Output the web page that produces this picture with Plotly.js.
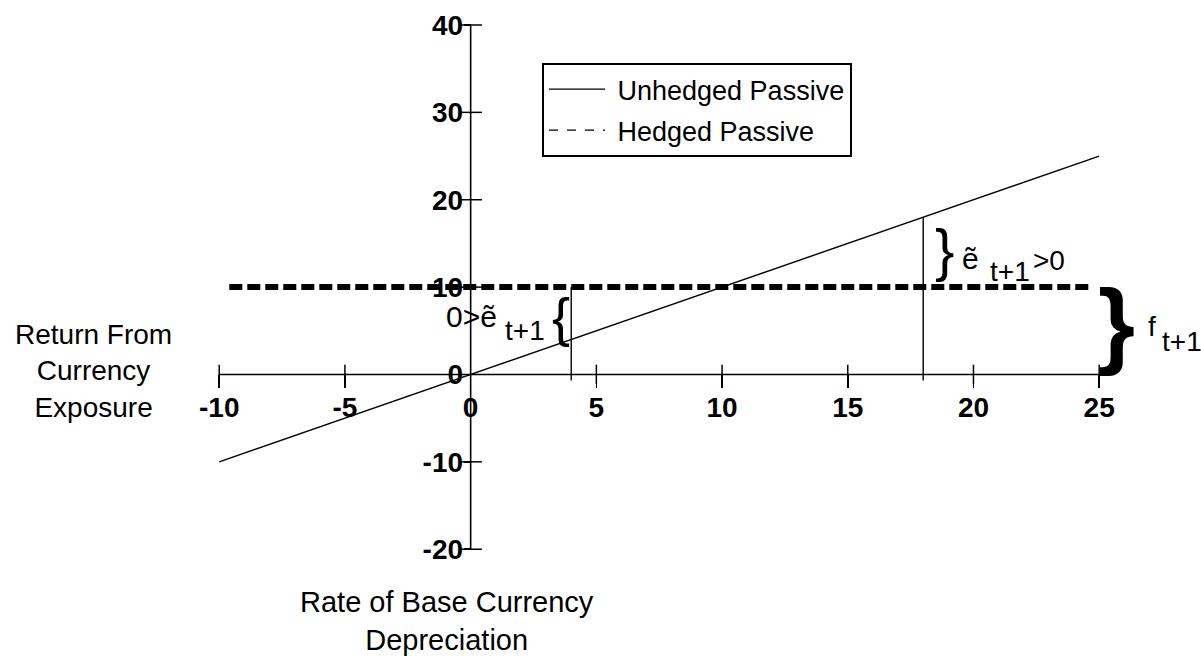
<!DOCTYPE html>
<html><head><meta charset="utf-8">
<script src="https://cdn.plot.ly/plotly-3.0.1.min.js"></script>
<style>html,body{margin:0;padding:0;background:#fff}</style>
</head><body><div id="chart" style="width:1201px;height:656px"></div>
<script>
// ---- data ----
const xTicks = [-10, -5, 0, 5, 10, 15, 20, 25];
const yTicks = [-20, -10, 0, 10, 20, 30, 40];
const unhedgedX = [-10, 25];
const unhedgedY = [-10, 25];
const hedgedX = [-9.6, 24.6];
const hedgedY = [10, 10];
const markX = [4, 18];          // illustrative depreciation rates
const markTop = [10, 18];       // upper end of each marker segment
const seriesNames = ['Unhedged Passive', 'Hedged Passive'];
const xTitle = 'Rate of Base Currency<br>Depreciation';
const yTitle = 'Return From<br>Currency<br>Exposure';

// ---- layout constants ----
const FONT = 'Liberation Sans, Arial, sans-serif';
const xRange = [-18.72, 29.05];
const yRange = [-32.22, 42.86];
const tickDrop = -0.7;

const traces = [];
traces.push({x: unhedgedX, y: unhedgedY, mode: 'lines', line: {color: '#000', width: 1.4}, showlegend: false, hoverinfo: 'skip'});
traces.push({x: hedgedX, y: hedgedY, mode: 'lines', line: {color: '#000', width: 6, dash: '13px,5px'}, showlegend: false, hoverinfo: 'skip'});
markX.forEach((mx, i) => {
  traces.push({x: [mx, mx], y: [tickDrop, markTop[i]], mode: 'lines', line: {color: '#000', width: 1.4}, showlegend: false, hoverinfo: 'skip'});
});
traces.push({x: xTicks.filter(v => v !== 0), y: xTicks.filter(v => v !== 0).map(() => 0), mode: 'markers',
  marker: {symbol: 'line-ns', size: 14, line: {color: '#000', width: 1.5}}, showlegend: false, hoverinfo: 'skip'});
traces.push({x: yTicks.filter(v => v !== 0).map(() => 0), y: yTicks.filter(v => v !== 0), mode: 'markers',
  marker: {symbol: 'line-ew', size: 16, line: {color: '#000', width: 1.5}}, showlegend: false, hoverinfo: 'skip'});
traces.push({x: [null], y: [null], mode: 'lines', name: '\u00a0' + seriesNames[0], legendgroup: 'a', line: {color: '#000', width: 1.3}});
traces.push({x: [null], y: [null], mode: 'lines', name: '\u00a0' + seriesNames[1], legendgroup: 'b', line: {color: '#000', width: 1.3, dash: 'dash'}});

const shapes = [
  {type: 'line', xref: 'x', yref: 'y', x0: Math.min(...xTicks), x1: Math.max(...xTicks), y0: 0, y1: 0, line: {color: '#000', width: 1.6}},
  {type: 'line', xref: 'x', yref: 'y', x0: 0, x1: 0, y0: Math.min(...yTicks), y1: Math.max(...yTicks), line: {color: '#000', width: 1.6}}
];

function ann(x, y, text, size, bold, extra) {
  return Object.assign({x, y, xref: 'x', yref: 'y', text, showarrow: false,
    font: {family: FONT, size, color: '#000', weight: bold ? 'bold' : 'normal'}}, extra || {});
}
const annotations = [
  ann(-15, 0.4, yTitle, 28, false),
  ann(-0.95, -28.2, xTitle, 29, false),
  ann(0.05, 6.6, '0>ẽ', 30, false),
  ann(2.17, 5.0, 't+1', 28, false),
  ann(3.6, 6.6, '{', 54, false),
  ann(18.85, 14.3, '}', 58, false),
  ann(19.9, 13.3, 'ẽ', 30, false),
  ann(21.45, 11.8, 't+1', 28, false),
  ann(23.0, 13.1, '>0', 28, false),
  ann(25.7, 5.9, '}', 95, true),
  ann(27.1, 5.5, 'f', 28, false),
  ann(28.3, 3.8, 't+1', 28, false)
];

const layout = {
  width: 1201, height: 656,
  margin: {l: 0, r: 0, t: 0, b: 0, pad: 0},
  paper_bgcolor: '#fff', plot_bgcolor: '#fff',
  showlegend: true,
  legend: {x: 542/1201, y: 1 - 63/656, xanchor: 'left', yanchor: 'top', bgcolor: '#fff',
    bordercolor: '#000', borderwidth: 2, font: {family: FONT, size: 27, color: '#000'}, itemwidth: 56,
    tracegroupgap: 3},
  xaxis: {range: xRange, domain: [0, 1], anchor: 'free', position: (0 - yRange[0]) / (yRange[1] - yRange[0]),
    showgrid: false, zeroline: false, showline: false, tickvals: xTicks, ticktext: xTicks.map(String),
    ticks: 'outside', ticklen: 13, tickwidth: 1.5, tickcolor: '#000', automargin: false, fixedrange: true,
    ticklabelstandoff: -5,
    tickfont: {family: FONT, size: 28, color: '#000', weight: 'bold'}},
  yaxis: {range: yRange, domain: [0, 1], anchor: 'free', position: (0 - xRange[0]) / (xRange[1] - xRange[0]),
    showgrid: false, zeroline: false, showline: false, tickvals: yTicks, ticktext: yTicks.map(String),
    ticks: 'outside', ticklen: 7, tickwidth: 1.5, tickcolor: '#000', automargin: false, fixedrange: true,
    ticklabelstandoff: -5,
    tickfont: {family: FONT, size: 28, color: '#000', weight: 'bold'}},
  shapes, annotations
};
Plotly.newPlot('chart', traces, layout, {displayModeBar: false, staticPlot: true});
</script></body></html>
